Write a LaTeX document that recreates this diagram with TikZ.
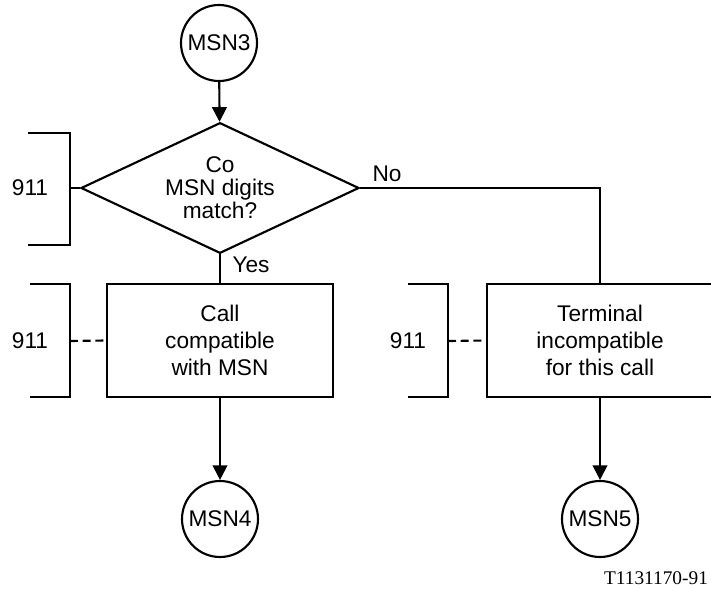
\documentclass[tikz,border=0pt]{standalone}
\usepackage{fontspec}
\setmainfont{Liberation Sans}
\newfontfamily\codefont{Liberation Serif}
\usetikzlibrary{shapes.geometric,arrows.meta}

\def\ringsize{57pt}

\begin{document}
\begin{tikzpicture}[x=0.75pt,y=-0.75pt,line width=1.6pt,font=\fontsize{17}{17.25}\selectfont]
				\tikzstyle{conn}=[circle,draw,minimum size=\ringsize,inner sep=0pt]
				\tikzstyle{decision}=[diamond,draw,aspect=2.12,minimum width=208.5pt,minimum height=98pt,inner sep=0pt,align=center]
				\tikzstyle{action}=[rectangle,draw,minimum width=169.5pt,minimum height=85pt,inner sep=0pt,align=center,font=\fontsize{17}{20.25}\selectfont]
				\tikzstyle{flow}=[-{Triangle[length=11pt,width=11pt]}]
				\tikzstyle{ref}=[dash pattern=on 6pt off 3.5pt]
				\useasboundingbox (0,0) rectangle (711,589);

			    % Connectors in and out
			    \node[conn] (msn3) at (219,43) {MSN3};
			    \node[conn] (msn4) at (220,519) {MSN4};
			    \node[conn] (msn5) at (600,519) {MSN5};

			    % Decision and actions
			    \node[decision] (match) at (220,188) {Co\\MSN digits\\match?};
			    \node[action] (compat) at (220,340.5) {Call\\compatible\\with MSN};
			    \node[action] (incompat) at (600,340.5) {Terminal\\incompatible\\for this call};

			    % Flow lines
			    \draw[flow] (msn3) -- (match);
			    \draw (match.south) -- (compat.north);
			    \draw (match.east) -| (incompat.north);
			    \draw[flow] (compat) -- (msn4);
			    \draw[flow] (incompat) -- (msn5);
			    \node (yes) at (251,265) {Yes};
			    \node (no) at (387,174) {No};

			    % References to 911
			    \coordinate (r1) at (70,188);
			    \coordinate (r2) at (70,341);
			    \coordinate (r3) at (448,341);
			    \draw (28,133) -- (70,133) -- (70,245) -- (28,245);
			    \draw (30,284) -- (70,284) -- (70,397) -- (30,397);
			    \draw (408,284) -- (448,284) -- (448,397) -- (408,397);
			    \draw (r1) -- (match.west);
			    \draw[ref] (r2) -- (compat.west);
			    \draw[ref] (r3) -- (incompat.west);
			    \node (ref1) at (30,188) {911};
			    \node (ref2) at (30,341) {911};
			    \node (ref3) at (408,341) {911};

			    \node[font=\codefont\fontsize{14.5}{14.5}\selectfont] (code) at (656,578) {T1131170-91};

\end{tikzpicture}
\end{document}
